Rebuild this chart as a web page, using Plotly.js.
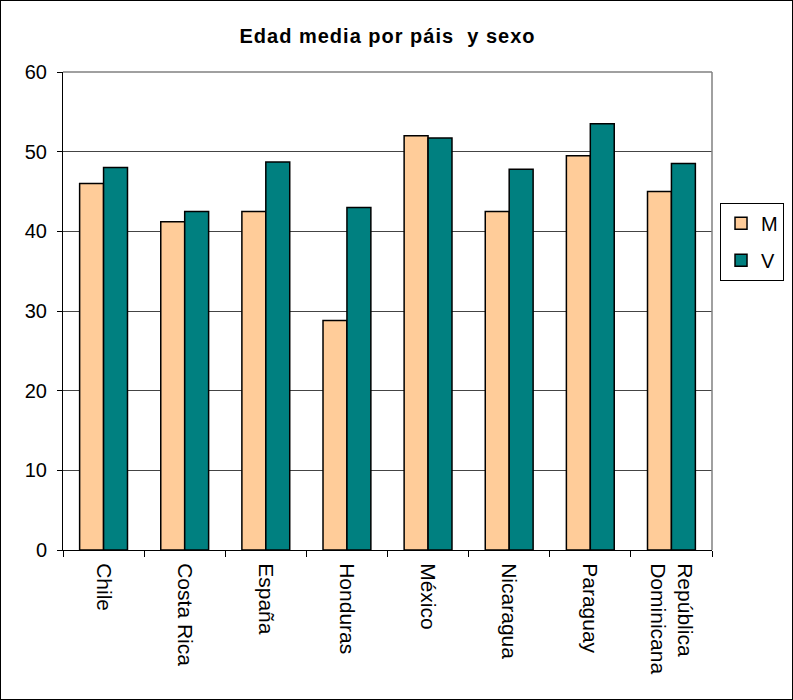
<!DOCTYPE html>
<html>
<head>
<meta charset="utf-8">
<script src="https://cdn.plot.ly/plotly-3.0.1.min.js"></script>
<style>
html,body{margin:0;padding:0;background:#fff;}
#chart{width:791px;height:698px;border:1px solid #000;}
#chart .gtitle{letter-spacing:1px;}
</style>
</head>
<body>
<div id="chart"></div>
<script>
const categories = ["Chile", "Costa Rica", "España", "Honduras", "México", "Nicaragua", "Paraguay", "República<br>Dominicana"];
const seriesM = [46.0, 41.2, 42.5, 28.8, 52.0, 42.5, 49.5, 45.0];
const seriesV = [48.0, 42.5, 48.7, 43.0, 51.7, 47.8, 53.5, 48.5];
const yTicks = [0, 10, 20, 30, 40, 50, 60];

const font = "Liberation Sans, Arial, sans-serif";

const traces = [
  {type: "bar", name: "M", x: categories, y: seriesM, legendgroup: "M",
   marker: {color: "#FFCC99", line: {color: "#000", width: 1.5}}},
  {type: "bar", name: "V", x: categories, y: seriesV, legendgroup: "V",
   marker: {color: "#008080", line: {color: "#000", width: 1.5}}}
];

const layout = {
  width: 791, height: 698,
  margin: {l: 62, r: 80, t: 71, b: 149, autoexpand: false},
  paper_bgcolor: "#fff", plot_bgcolor: "#fff",
  font: {family: font, size: 20, color: "#000"},
  title: {text: "<b>Edad media por páis  y sexo</b>", font: {family: font, size: 20, color: "#000"},
          x: 0.5, xanchor: "center", y: 0.95, yanchor: "middle", xref: "paper"},
  barmode: "group", bargap: 0.41, bargroupgap: 0,
  showlegend: true,
  legend: {xref: "container", yref: "container", x: 0.909, y: 0.711, xanchor: "left", yanchor: "top",
           bordercolor: "#000", borderwidth: 1, font: {family: font, size: 20},
           tracegroupgap: 8, itemwidth: 30},
  xaxis: {type: "category", showline: true, linecolor: "#000", linewidth: 1,
          ticks: "outside", ticklen: 6, tickcolor: "#000", tickson: "boundaries",
          tickangle: 90, tickfont: {family: font, size: 21}, ticklabelstandoff: 8,
          showgrid: false, fixedrange: true},
  yaxis: {range: [0, 60], tickvals: yTicks, showline: true, linecolor: "#000", linewidth: 1,
          ticks: "outside", ticklen: 5, tickcolor: "#000", showgrid: true, gridcolor: "#444",
          gridwidth: 1, zeroline: false, tickfont: {family: font, size: 20}, ticklabelstandoff: 6,
          fixedrange: true},
  shapes: [
    {type: "line", xref: "paper", yref: "paper", x0: 0, x1: 1, y0: 1, y1: 1, line: {color: "#808080", width: 1.5}},
    {type: "line", xref: "paper", yref: "paper", x0: 1, x1: 1, y0: 0, y1: 1, line: {color: "#808080", width: 1.5}}
  ]
};

Plotly.newPlot("chart", traces, layout, {displayModeBar: false, staticPlot: true});
</script>
</body>
</html>
